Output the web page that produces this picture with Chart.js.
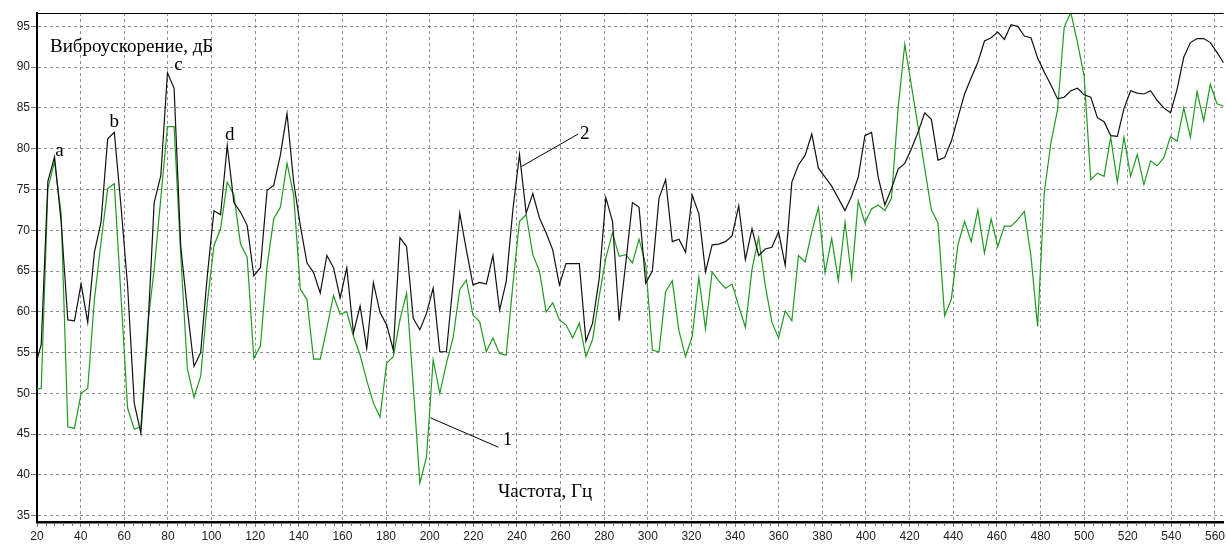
<!DOCTYPE html>
<html>
<head>
<meta charset="utf-8">
<script src="https://cdn.jsdelivr.net/npm/chart.js@4/dist/chart.umd.min.js"></script>
<style>
  html, body { margin: 0; padding: 0; background: #fff; }
  #wrap { width: 1227px; height: 549px; }
</style>
</head>
<body>
<div id="wrap"><canvas id="chart" width="1227" height="549"></canvas></div>
<script>
// Спектр виброускорения, шаг по частоте ~3 Гц
const F_START = 18.9;
const F_STEP = 3.045;

// кривая 2 (чёрная)
const accel2 = [
  53, 56, 76, 79, 71, 59, 58.9, 63.4, 58.7, 67.3,
  71, 81.2, 82, 73, 63.2, 48.8, 45.1, 57, 73.4, 76.7,
  89.3, 87.4, 68, 60.3, 53.3, 55, 64.4, 72.4, 71.9, 80.4,
  73.4, 72.2, 70.6, 64.4, 65.4, 74.9, 75.5, 79.2, 84.3, 75.9,
  70.6, 66, 64.8, 62.3, 66.9, 65.4, 61.7, 65.4, 57.4, 60.7,
  55.5, 63.6, 59.9, 58.4, 55.3, 69.1, 68, 59.2, 57.8, 59.8,
  62.9, 55.1, 55.1, 63.5, 72.1, 67.6, 63.3, 63.6, 63.4, 66.9,
  60.2, 63.7, 72.5, 79.3, 72.1, 74.5, 71.5, 69.7, 67.6, 63.3,
  65.9, 65.9, 65.9, 56.4, 58.6, 64.1, 74, 71.1, 58.9, 66,
  73.4, 72.8, 63.5, 65, 73.9, 76.2, 68.6, 68.9, 67.3, 74.3,
  72, 64.9, 68.2, 68.3, 68.6, 69.3, 73, 66.4, 70.2, 66.9,
  67.7, 67.9, 69.8, 65.7, 75.9, 78, 79.2, 81.8, 77.6, 76.5,
  75.4, 73.9, 72.4, 74.2, 76.5, 81.6, 82, 76.5, 73.1, 75.1,
  77.5, 78.2, 80, 82, 84.4, 83.6, 78.6, 78.9, 80.9, 83.8,
  86.7, 88.7, 90.6, 93.2, 93.6, 94.3, 93.4, 95.2, 95, 93.8,
  93.6, 91.1, 89.4, 87.8, 86.1, 86.3, 87.1, 87.4, 86.6, 86.3,
  83.8, 83.3, 81.6, 81.5, 84.9, 87.1, 86.8, 86.7, 87.1, 85.9,
  85, 84.4, 87.3, 91.2, 93, 93.5, 93.5, 93, 91.8, 90.5
];

// кривая 1 (зелёная)
const accel1 = [
  50.5, 50.6, 75.1, 78.4, 72, 45.9, 45.7, 50, 50.6, 61.5,
  68.5, 75.1, 75.7, 62, 48.2, 45.6, 45.9, 58.2, 65.2, 73.9,
  82.7, 82.7, 67, 53, 49.5, 52.1, 61.1, 68.1, 70.2, 75.9,
  74.3, 68.3, 66.7, 54.3, 55.8, 65.6, 71.4, 72.8, 78.2, 74.3,
  62.8, 61.5, 54.2, 54.2, 58, 62, 59.7, 60, 57, 54.7,
  51.6, 48.8, 47.1, 53.7, 54.5, 59, 62.3, 51, 39, 42.2,
  54.1, 50, 53.7, 56.8, 62.7, 63.9, 59.6, 58.8, 55.1, 56.8,
  54.9, 54.7, 63.3, 71.1, 71.9, 67, 65, 60, 61.1, 59,
  58.4, 56.8, 58.6, 54.5, 56.6, 61.9, 66.6, 69.7, 66.8, 67,
  66, 68.9, 65.8, 55.3, 55.1, 62.5, 63.8, 57.7, 54.5, 57,
  64.2, 57.9, 64.9, 63.8, 62.9, 63.4, 60.7, 58.1, 65.2, 69.1,
  63.2, 58.7, 56.8, 60.1, 58.9, 66.9, 66.1, 69.8, 72.8, 64.8,
  69, 63.8, 71, 64.2, 73.6, 70.9, 72.6, 73.1, 72.4, 73.9,
  85, 92.8, 87.7, 82.7, 77.6, 72.5, 70.9, 59.5, 61.5, 68.2,
  71.1, 68.6, 72.5, 67.2, 71.4, 68, 70.5, 70.5, 71.3, 72.3,
  66.8, 58.2, 74.6, 80.7, 84.8, 94.9, 96.7, 93, 88.9, 76.2,
  77, 76.6, 81.4, 75.9, 81.4, 76.6, 79.3, 75.6, 78.5, 77.9,
  78.9, 81.5, 80.9, 85, 81.4, 87, 83.4, 87.9, 85.5, 85.2
];

const freq = accel2.map((_, i) => F_START + F_STEP * i);

// подписи: [текст, Гц, дБ]
const peakLabels = [
  ['a', 30.3, 79.1],
  ['b', 55.4, 82.7],
  ['c', 84.8, 89.6],
  ['d', 108.4, 81.0],
  ['2', 271.1, 81.2],
  ['1', 235.7, 43.7]
];
// выноски: [Гц1, дБ1, Гц2, дБ2]
const leaders = [
  [242.0, 77.8, 268.1, 81.8],
  [200.4, 47.0, 231.5, 43.4]
];

const toPoints = arr => arr.map((v, i) => ({ x: freq[i], y: v }));

const overlay = {
  id: 'overlay',
  afterDatasetsDraw(chart) {
    const { ctx, chartArea: a, scales: { x, y } } = chart;
    ctx.save();

    // верхняя рамка
    ctx.strokeStyle = '#000';
    ctx.lineWidth = 1;
    ctx.beginPath();
    ctx.moveTo(a.left, a.top + 0.5);
    ctx.lineTo(a.right, a.top + 0.5);
    ctx.stroke();

    // мелкие риски по оси частот
    ctx.strokeStyle = '#777';
    ctx.beginPath();
    for (let f = 24; f < x.max; f += 4) {
      if (f % 20 === 0) continue;
      const px = Math.round(x.getPixelForValue(f)) + 0.5;
      ctx.moveTo(px, a.bottom + 1);
      ctx.lineTo(px, a.bottom + 4);
    }
    ctx.stroke();

    // выноски
    ctx.strokeStyle = '#000';
    ctx.lineWidth = 1;
    leaders.forEach(([f1, v1, f2, v2]) => {
      ctx.beginPath();
      ctx.moveTo(x.getPixelForValue(f1), y.getPixelForValue(v1));
      ctx.lineTo(x.getPixelForValue(f2), y.getPixelForValue(v2));
      ctx.stroke();
    });

    ctx.fillStyle = '#000';
    ctx.font = '19px "Liberation Serif", "Times New Roman", serif';
    ctx.textBaseline = 'alphabetic';
    ctx.textAlign = 'center';
    peakLabels.forEach(([t, f, v]) => {
      ctx.fillText(t, x.getPixelForValue(f), y.getPixelForValue(v));
    });

    ctx.textAlign = 'left';
    ctx.fillText('Виброускорение, дБ', a.left + 13, a.top + 39);
    ctx.fillText('Частота, Гц', a.left + 461, a.bottom - 25);
    ctx.restore();
  }
};

new Chart(document.getElementById('chart'), {
  type: 'line',
  data: {
    datasets: [
      {
        label: '2',
        data: toPoints(accel2),
        borderColor: '#111',
        borderWidth: 1.2,
        pointRadius: 0,
        tension: 0,
        order: 1
      },
      {
        label: '1',
        data: toPoints(accel1),
        borderColor: '#1f9a1f',
        borderWidth: 1.2,
        pointRadius: 0,
        tension: 0,
        order: 2
      }
    ]
  },
  options: {
    responsive: false,
    animation: false,
    events: [],
    layout: { padding: { top: 13, right: 0, left: 0, bottom: 0 } },
    plugins: {
      legend: { display: false },
      tooltip: { enabled: false }
    },
    scales: {
      x: {
        type: 'linear',
        min: 20,
        max: 564,
        afterFit: s => { s.height = 27; },
        border: { color: '#000', width: 2.5, dash: [3, 3] },
        grid: {
          color: '#8e8e8e',
          lineWidth: 1,
          tickLength: 5,
          tickColor: '#777',
          tickBorderDash: [],
          tickWidth: 1
        },
        ticks: {
          stepSize: 20,
          includeBounds: false,
          autoSkip: false,
          maxRotation: 0,
          padding: 2,
          color: '#222',
          font: { family: '"Liberation Sans", Arial, sans-serif', size: 12 }
        }
      },
      y: {
        min: 34.23,
        max: 96.63,
        afterFit: s => { s.width = 37; },
        border: { color: '#000', width: 2, dash: [3, 3] },
        grid: {
          color: '#8e8e8e',
          lineWidth: 1,
          tickLength: 6,
          tickColor: '#777',
          tickBorderDash: [],
          tickWidth: 1
        },
        ticks: {
          stepSize: 5,
          includeBounds: false,
          padding: 1,
          color: '#222',
          font: { family: '"Liberation Sans", Arial, sans-serif', size: 12 }
        }
      }
    }
  },
  plugins: [overlay]
});
</script>
</body>
</html>
